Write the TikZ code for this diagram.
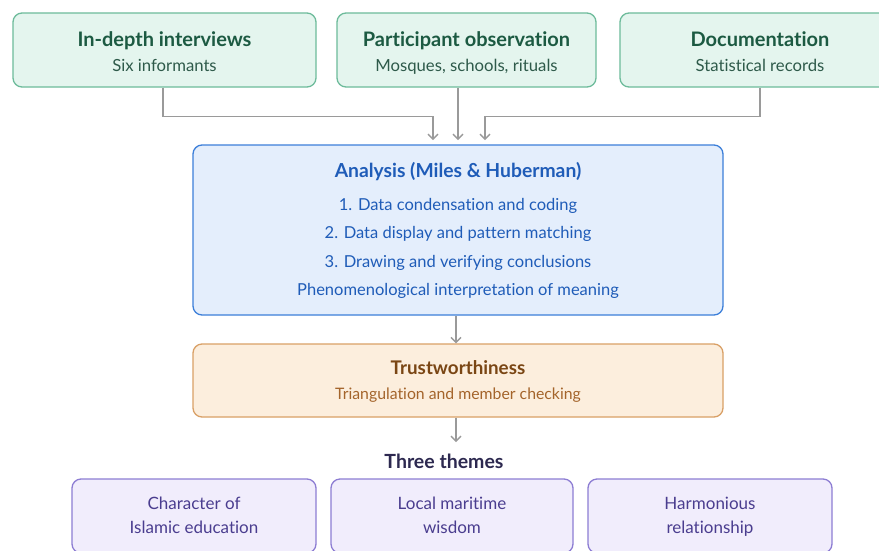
\documentclass[tikz,border=0pt]{standalone}
\usepackage{fontspec}
\setmainfont{Lato}[Ligatures={NoCommon,TeX}]
\usetikzlibrary{arrows.meta}
\definecolor{gfill}{HTML}{E4F5EE}
\definecolor{gdraw}{HTML}{6DBB9B}
\definecolor{gtitle}{HTML}{1C5A42}
\definecolor{gsub}{HTML}{2E5A4A}
\definecolor{bfill}{HTML}{E4EEFC}
\definecolor{bdraw}{HTML}{3C7FD9}
\definecolor{btext}{HTML}{1F5CB8}
\definecolor{ofill}{HTML}{FCEEDD}
\definecolor{odraw}{HTML}{D9A066}
\definecolor{otitle}{HTML}{7A4614}
\definecolor{osub}{HTML}{A4642B}
\definecolor{pfill}{HTML}{F1EDFC}
\definecolor{pdraw}{HTML}{8D7DD3}
\definecolor{ptext}{HTML}{4A3D8F}
\definecolor{ptitle}{HTML}{2D2950}
\definecolor{linec}{HTML}{9A9A9A}
\tikzset{
  box/.style={rectangle, rounded corners=9pt, line width=1.3pt, inner sep=0pt},
  srcbox/.style={box, fill=gfill, draw=gdraw, minimum height=74pt},
  themebox/.style={box, fill=pfill, draw=pdraw, minimum height=74pt},
  lbl/.style={anchor=base, inner sep=0pt},
  themetxt/.style={lbl, text=ptext, font=\fontsize{17}{20}\selectfont},
  arr/.style={draw=linec, line width=1.6pt, -{Straight Barb[length=5pt,width=10pt,line width=1.4pt]}},
}
\begin{document}
\begin{tikzpicture}[x=1pt,y=-1pt]
\useasboundingbox (0,0) rectangle (879,550);
\fill[white] (0,0) rectangle (879,550);
% source boxes
\node[srcbox, minimum width=303pt] (b1) at (164.5,50) {};
\node[srcbox, minimum width=259pt] (b2) at (466.5,50) {};
\node[srcbox, minimum width=280pt] (b3) at (760,50) {};
\foreach \n/\t/\s in {b1/In-depth interviews/Six informants, b2/Participant observation/{Mosques, schools, rituals}, b3/Documentation/Statistical records}{
  \node[lbl, text=gtitle, font=\fontsize{20}{22}\selectfont\bfseries] at (\n.center |- 0,46) {\t};
  \node[lbl, text=gsub, font=\fontsize{16.7}{18}\selectfont] at (\n.center |- 0,71) {\s};
}
% analysis
\node[box, fill=bfill, draw=bdraw, minimum width=530pt, minimum height=170pt] (ana) at (458,230) {};
\node[lbl, text=btext, font=\fontsize{19.3}{21}\selectfont\bfseries] (anat) at (458,177) {Analysis (Miles \& Huberman)};
\node[lbl, text=btext, font=\fontsize{16.5}{18}\selectfont] (a1) at (458,210) {1. Data condensation and coding};
\node[lbl, text=btext, font=\fontsize{16.5}{18}\selectfont] (a2) at (458,238.5) {2. Data display and pattern matching};
\node[lbl, text=btext, font=\fontsize{16.5}{18}\selectfont] (a3) at (458,267) {3. Drawing and verifying conclusions};
\node[lbl, text=btext, font=\fontsize{16.5}{18}\selectfont] (a4) at (458,295.5) {Phenomenological interpretation of meaning};
% trust
\node[box, fill=ofill, draw=odraw, minimum width=530pt, minimum height=73pt] (tr) at (458,380.5) {};
\node[lbl, text=otitle, font=\fontsize{18.8}{20}\selectfont\bfseries] (trt) at (458,374.5) {Trustworthiness};
\node[lbl, text=osub, font=\fontsize{15.8}{18}\selectfont] (trs) at (458,399) {Triangulation and member checking};
% themes
\node[lbl, text=ptitle, font=\fontsize{19.5}{21}\selectfont\bfseries] (th) at (444,468) {Three themes};
\node[themebox, minimum width=244pt] (t1) at (194,516) {};
\node[themebox, minimum width=242pt] (t2) at (452,516) {};
\node[themebox, minimum width=244pt] (t3) at (710,516) {};
\node[themetxt] (t1a) at (194,509) {Character of};
\node[themetxt] (t1b) at (194,533) {Islamic education};
\node[themetxt] (t2a) at (452,509) {Local maritime};
\node[themetxt] (t2b) at (452,533) {wisdom};
\node[themetxt] (t3a) at (710,509) {Harmonious};
\node[themetxt] (t3b) at (710,533) {relationship};
% connectors
\coordinate (e1) at (433,140);
\coordinate (e2) at (458,140);
\coordinate (e3) at (485,140);
\draw[arr] ([xshift=-1.5pt]b1.south) -- ++(0,29) -| (e1);
\draw[arr] ([xshift=-8.5pt]b2.south) -- (e2);
\draw[arr] (b3.south) -- ++(0,29) -| (e3);
\draw[arr] ([xshift=-2pt]ana.south) -- ([xshift=-2pt]tr.north);
\coordinate (e4) at (456,442);
\draw[arr] ([xshift=-2pt]tr.south) -- (e4);
\end{tikzpicture}
\end{document}
